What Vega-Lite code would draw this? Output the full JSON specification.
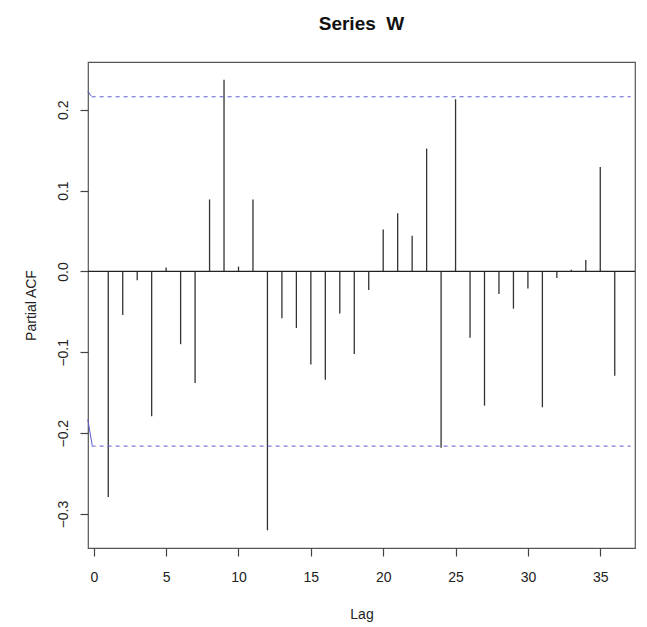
{
  "$schema": "https://vega.github.io/schema/vega-lite/v6.json",
  "autosize": "none",
  "width": 547,
  "height": 486,
  "padding": {"left": 88, "top": 62, "right": 12, "bottom": 79},
  "background": "white",
  "title": {
    "text": "Series\u00a0\u00a0W",
    "font": "Liberation Sans",
    "fontSize": 19,
    "fontWeight": "bold",
    "color": "#111",
    "anchor": "middle",
    "frame": "group",
    "baseline": "alphabetic",
    "offset": 13
  },
  "config": {
    "view": {"stroke": "#555", "strokeWidth": 1.2},
    "axis": {
      "grid": false,
      "domain": false,
      "tickSize": 8,
      "tickColor": "#444",
      "tickWidth": 1.2,
      "labelFont": "Liberation Sans",
      "labelFontSize": 14,
      "labelColor": "#222",
      "titleFont": "Liberation Sans",
      "titleFontSize": 14,
      "titleFontWeight": "normal",
      "titleColor": "#222"
    }
  },
  "datasets": {
    "pacf": [
      {"lag": 1, "pacf": -0.279},
      {"lag": 2, "pacf": -0.054},
      {"lag": 3, "pacf": -0.011},
      {"lag": 4, "pacf": -0.179},
      {"lag": 5, "pacf": 0.005},
      {"lag": 6, "pacf": -0.090},
      {"lag": 7, "pacf": -0.138},
      {"lag": 8, "pacf": 0.089},
      {"lag": 9, "pacf": 0.237},
      {"lag": 10, "pacf": 0.006},
      {"lag": 11, "pacf": 0.089},
      {"lag": 12, "pacf": -0.320},
      {"lag": 13, "pacf": -0.058},
      {"lag": 14, "pacf": -0.070},
      {"lag": 15, "pacf": -0.115},
      {"lag": 16, "pacf": -0.134},
      {"lag": 17, "pacf": -0.052},
      {"lag": 18, "pacf": -0.102},
      {"lag": 19, "pacf": -0.023},
      {"lag": 20, "pacf": 0.052},
      {"lag": 21, "pacf": 0.072},
      {"lag": 22, "pacf": 0.044},
      {"lag": 23, "pacf": 0.152},
      {"lag": 24, "pacf": -0.218},
      {"lag": 25, "pacf": 0.213},
      {"lag": 26, "pacf": -0.082},
      {"lag": 27, "pacf": -0.166},
      {"lag": 28, "pacf": -0.028},
      {"lag": 29, "pacf": -0.046},
      {"lag": 30, "pacf": -0.021},
      {"lag": 31, "pacf": -0.168},
      {"lag": 32, "pacf": -0.008},
      {"lag": 33, "pacf": 0.002},
      {"lag": 34, "pacf": 0.014},
      {"lag": 35, "pacf": 0.129},
      {"lag": 36, "pacf": -0.129}
    ],
    "ci": [
      {"level": 0.216},
      {"level": -0.216}
    ],
    "kink": [
      {"part": "top", "lag": -0.415, "v": 0.223},
      {"part": "top", "lag": -0.18, "v": 0.217},
      {"part": "bottom", "lag": -0.415, "v": -0.183},
      {"part": "bottom", "lag": -0.11, "v": -0.215}
    ]
  },
  "layer": [
    {
      "data": {"name": "pacf"},
      "mark": {"type": "rule", "color": "#333", "strokeWidth": 1.3},
      "encoding": {
        "x": {
          "field": "lag",
          "type": "quantitative",
          "scale": {"domain": [-0.4, 37.4], "nice": false, "zero": false},
          "axis": {
            "title": "Lag",
            "values": [0, 5, 10, 15, 20, 25, 30, 35],
            "labelPadding": 14,
            "titlePadding": 23,
            "labelFlush": false
          }
        },
        "y": {
          "field": "pacf",
          "type": "quantitative",
          "scale": {"domain": [-0.342, 0.259], "nice": false, "zero": false},
          "axis": {
            "title": "Partial ACF",
            "values": [-0.3, -0.2, -0.1, 0, 0.1, 0.2],
            "format": ".1f",
            "labelAngle": -90,
            "labelAlign": "center",
            "labelBaseline": "bottom",
            "labelPadding": 10,
            "titlePadding": 18,
            "labelFlush": false
          }
        },
        "y2": {"datum": 0}
      }
    },
    {
      "data": {"values": [{"z": 0}]},
      "mark": {"type": "rule", "color": "#222", "strokeWidth": 1.2},
      "encoding": {
        "y": {"field": "z", "type": "quantitative"}
      }
    },
    {
      "data": {"name": "ci"},
      "mark": {"type": "rule", "color": "#5b5bd6", "strokeWidth": 1, "strokeDash": [4, 4]},
      "encoding": {
        "y": {"field": "level", "type": "quantitative"},
        "x": {"datum": -0.15},
        "x2": {"datum": 37.1}
      }
    },
    {
      "data": {"name": "kink"},
      "mark": {"type": "line", "color": "#5b5bd6", "strokeWidth": 1},
      "encoding": {
        "x": {"field": "lag", "type": "quantitative"},
        "y": {"field": "v", "type": "quantitative"},
        "detail": {"field": "part"}
      }
    }
  ]
}
